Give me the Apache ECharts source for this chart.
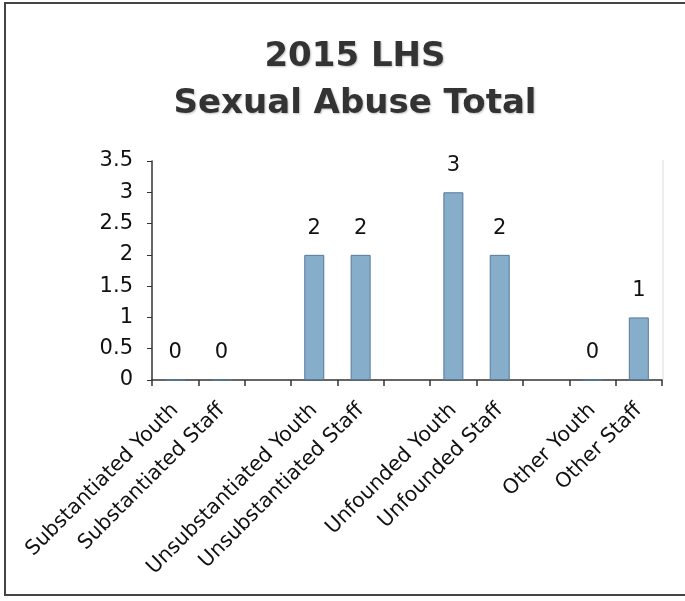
<!DOCTYPE html>
<html>
<head>
<meta charset="utf-8">
<style>
  html, body { margin: 0; padding: 0; background: #fff; }
  #chart { width: 685px; height: 601px; }
</style>
<script src="https://cdn.jsdelivr.net/npm/echarts@6/dist/echarts.min.js"></script>
</head>
<body>
<div id="chart"></div>
<script>
// categories, '' marks the empty gap slots between groups
const categories = [
  'Substantiated Youth', 'Substantiated Staff', '',
  'Unsubstantiated Youth', 'Unsubstantiated Staff', '',
  'Unfounded Youth', 'Unfounded Staff', '',
  'Other Youth', 'Other Staff'
]
// null = no bar / no label in that slot
const counts = [0, 0, null, 2, 2, null, 3, 2, null, 0, 1]
const yTicks = [0, 0.5, 1, 1.5, 2, 2.5, 3, 3.5]

const font = '"DejaVu Sans", sans-serif'

const chart = echarts.init(document.getElementById('chart'))

chart.setOption({
  backgroundColor: '#fff',
  animation: false,
  title: {
    text: '2015 LHS\nSexual Abuse Total',
    left: 350,
    top: 29,
    textAlign: 'center',
    textStyle: {
      fontFamily: font,
      fontSize: 34,
      fontWeight: 'bold',
      color: '#333',
      lineHeight: 47,
      textShadowColor: 'rgba(0,0,0,0.25)',
      textShadowBlur: 2,
      textShadowOffsetX: 1,
      textShadowOffsetY: 1
    }
  },
  graphic: [{
    type: 'rect',
    shape: { x: 5, y: 3, width: 700, height: 592 },
    style: { fill: 'none', stroke: '#444', lineWidth: 2 },
    z: -1
  }, {
    type: 'line',
    shape: { x1: 663, y1: 160, x2: 663, y2: 380 },
    style: { stroke: '#dcdcdc', lineWidth: 1 }
  }],
  grid: { left: 152, right: 23, top: 161, bottom: 221 },
  xAxis: {
    type: 'category',
    data: categories,
    axisLine: { lineStyle: { color: '#333', width: 1.5 } },
    axisTick: { show: true, length: 6, alignWithLabel: false, lineStyle: { color: '#333', width: 1.5 } },
    axisLabel: {
      interval: 0,
      rotate: 45,
      margin: 27,
      fontFamily: font,
      fontSize: 20.5,
      color: '#111'
    }
  },
  yAxis: {
    type: 'value',
    min: 0,
    max: 3.5,
    interval: 0.5,
    axisLine: { show: true, lineStyle: { color: '#333', width: 1.5 } },
    axisTick: { show: true, length: 5, lineStyle: { color: '#333' } },
    splitLine: { show: false },
    axisLabel: {
      margin: 19,
      fontFamily: font,
      fontSize: 21,
      color: '#111',
      formatter: v => yTicks.includes(v) ? String(v) : ''
    }
  },
  series: [{
    type: 'bar',
    data: counts,
    barWidth: 20,
    itemStyle: { color: '#86aecb', borderColor: '#55799a', borderWidth: 1 },
    label: {
      show: true,
      position: 'top',
      distance: 16,
      fontFamily: font,
      fontSize: 21,
      color: '#111',
      formatter: p => p.value == null ? '' : String(p.value)
    }
  }]
})
</script>
</body>
</html>
